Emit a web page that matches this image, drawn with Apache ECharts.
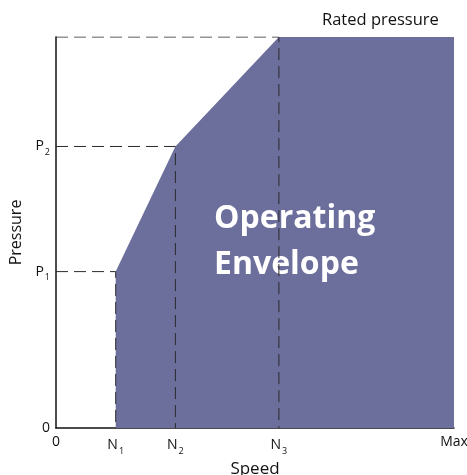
<!DOCTYPE html>
<html>
<head>
<meta charset="utf-8">
<script src="https://cdn.jsdelivr.net/npm/echarts@6/dist/echarts.min.js"></script>
<style>
html,body{margin:0;padding:0;background:#fff;}
#chart{width:467px;height:475px;}
</style>
</head>
<body>
<div id="chart"></div>
<script>
//数据
var xTickValues=[0,15,30,56,100];
var xTickLabels=['0','N|1','N|2','N|3','Max'];
var yTickValues=[0,40,72];
var yTickLabels=['0','P|1','P|2'];
//包络线顶点 (速度, 压力)
var envelope=[[15,0],[15,40],[30,72],[56,100],[100,100],[100,0]];
//虚线
var guideLines=[
	[[0,40],[15,40],[15,0]],
	[[0,72],[30,72],[30,0]],
	[[0,100],[56,100],[56,0]]
];

var fmt=function (list,values) {
	return function (v) {
		var i=values.indexOf(v);
		if(i<0) return '';
		var p=list[i].split('|');
		if(p.length==1) return '{a|'+p[0]+'}';
		return '{a|'+p[0]+'}{s|'+p[1]+'}';
	};
};
var rich={
	a:{fontSize:14,color:'#111',fontFamily:'Open Sans'},
	s:{fontSize:9,color:'#111',fontFamily:'Open Sans',padding:[12,0,0,1]}
};

var myChart=echarts.init(document.getElementById('chart'));
var series=[{
	type:'line',
	data:envelope,
	symbol:'none',
	lineStyle:{width:0},
	areaStyle:{color:'#6c6e9c',opacity:1},
	silent:true,
	z:1
}];
guideLines.forEach(function (d) {
	series.push({
		type:'line',
		data:d,
		symbol:'none',
		lineStyle:{color:'#2a2a2a',width:1,type:[12,6]},
		silent:true,
		z:5
	});
});

var option={
	backgroundColor:'#ffffff',
	animation:false,
	grid:{left:56,right:13,top:37,bottom:47,outerBoundsMode:'none',containLabel:false},
	xAxis:{
		type:'value',min:0,max:100,
		name:'Speed',nameLocation:'middle',nameGap:27,
		nameTextStyle:{fontSize:17,color:'#111',fontFamily:'Open Sans'},
		axisLine:{show:true,lineStyle:{color:'#111',width:1.5}},
		axisTick:{show:false},
		splitLine:{show:false},
		axisLabel:{customValues:xTickValues,formatter:fmt(xTickLabels,xTickValues),rich:rich,margin:7}
	},
	yAxis:{
		type:'value',min:0,max:100,
		name:'Pressure',nameLocation:'middle',nameGap:28,
		nameTextStyle:{fontSize:16,color:'#111',fontFamily:'Open Sans'},
		axisLine:{show:true,lineStyle:{color:'#111',width:1.5}},
		axisTick:{show:false},
		splitLine:{show:false},
		axisLabel:{customValues:yTickValues,formatter:fmt(yTickLabels,yTickValues),rich:rich,margin:6}
	},
	graphic:[
		{type:'text',z:3,left:322,top:12,style:{text:'Rated pressure',fontSize:16.5,fill:'#111',fontFamily:'Open Sans'}},
		{type:'text',z:3,left:214,top:196,style:{text:'Operating\nEnvelope',fontSize:32,fontWeight:'bold',lineHeight:46,fill:'#fff',fontFamily:'Open Sans'}}
	],
	series:series
};
myChart.setOption(option);
</script>
</body>
</html>
